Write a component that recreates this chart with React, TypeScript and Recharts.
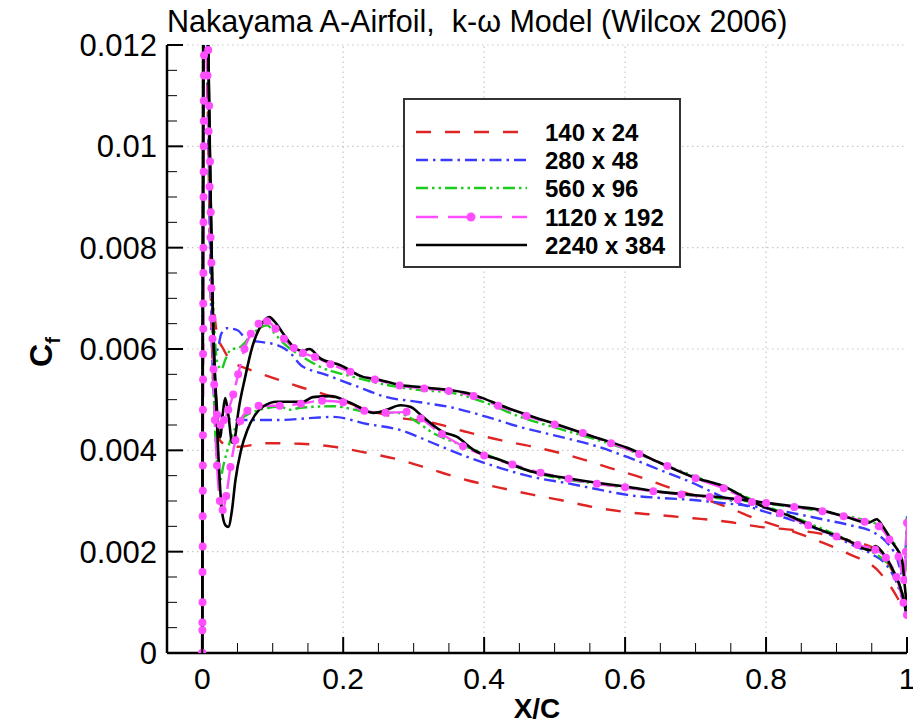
import React from 'react';
import { LineChart, Line, XAxis, YAxis, ReferenceLine, Legend } from 'recharts';

type P = [number, number];

// ---- tick values ----
const X_MAJOR = [0, 0.2, 0.4, 0.6, 0.8, 1];
const X_LABELS = ['0', '0.2', '0.4', '0.6', '0.8', '1'];
const X_MINOR = [0.05, 0.1, 0.15, 0.25, 0.3, 0.35, 0.45, 0.5, 0.55, 0.65, 0.7, 0.75, 0.85, 0.9, 0.95];
const Y_MAJOR = [0, 0.002, 0.004, 0.006, 0.008, 0.01, 0.012];
const Y_LABELS = ['0', '0.002', '0.004', '0.006', '0.008', '0.01', '0.012'];
const Y_MINOR = [0.0005, 0.001, 0.0015, 0.0025, 0.003, 0.0035, 0.0045, 0.005, 0.0055, 0.0065, 0.007, 0.0075, 0.0085, 0.009, 0.0095, 0.0105, 0.011, 0.0115];
const X_GRID = [0, 0.2, 0.4, 0.6, 0.8];
const Y_GRID = [0.002, 0.004, 0.006, 0.008, 0.01, 0.012];

// ---- series data (x/c, Cf) ----
const red140U: P[] = [
  [0, 0], [0.003, 0.0145], [0.008, 0.011], [0.013, 0.0075], [0.018, 0.0066], [0.021, 0.0063], [0.03, 0.006],
  [0.04, 0.00578], [0.068, 0.00559], [0.096, 0.00545], [0.139, 0.00525], [0.186, 0.00505], [0.234, 0.0048],
  [0.281, 0.00464], [0.328, 0.00454], [0.376, 0.00436], [0.423, 0.0042], [0.47, 0.00407], [0.518, 0.00391],
  [0.579, 0.00365], [0.626, 0.00345], [0.664, 0.00326], [0.7, 0.0031], [0.745, 0.00288], [0.791, 0.00262],
  [0.82, 0.00249], [0.867, 0.00225], [0.915, 0.00197], [0.962, 0.00158], [0.986, 0.0011], [1.0, 0.0007],
];
const red140L: P[] = [
  [0, 0], [0.003, 0.0145], [0.008, 0.0105], [0.013, 0.0065], [0.018, 0.0047], [0.025, 0.0042], [0.035, 0.0041],
  [0.05, 0.00407], [0.092, 0.00414], [0.139, 0.00413], [0.186, 0.00407], [0.234, 0.00395], [0.281, 0.00381],
  [0.328, 0.00361], [0.376, 0.00341], [0.423, 0.00326], [0.47, 0.00312], [0.508, 0.00302], [0.555, 0.00288],
  [0.603, 0.00278], [0.65, 0.00272], [0.697, 0.00266], [0.745, 0.00259], [0.791, 0.00249], [0.838, 0.00243],
  [0.867, 0.00238], [0.915, 0.00223], [0.957, 0.00203], [0.976, 0.0017], [0.99, 0.0013], [1.0, 0.0009],
];
const blue280U: P[] = [
  [0, 0], [0.003, 0.0145], [0.008, 0.0115], [0.012, 0.0075], [0.016, 0.006], [0.021, 0.00598], [0.027, 0.0063],
  [0.035, 0.00641], [0.05, 0.00637], [0.064, 0.00618], [0.082, 0.00614], [0.106, 0.00608], [0.125, 0.00592],
  [0.14, 0.00568], [0.157, 0.00557], [0.167, 0.00553], [0.214, 0.00529], [0.262, 0.00505], [0.309, 0.00495],
  [0.356, 0.00484], [0.404, 0.00466], [0.451, 0.00446], [0.498, 0.0043], [0.555, 0.0041], [0.603, 0.00387],
  [0.65, 0.00361], [0.697, 0.00335], [0.745, 0.00304], [0.791, 0.00282], [0.838, 0.00262], [0.88, 0.0024],
  [0.92, 0.00215], [0.95, 0.00195], [0.97, 0.00175], [0.985, 0.0014], [0.995, 0.001], [1.0, 0.0008],
];
const blue280L: P[] = [
  [0, 0], [0.003, 0.0145], [0.008, 0.011], [0.013, 0.0065], [0.017, 0.005], [0.021, 0.00476], [0.03, 0.00466],
  [0.05, 0.0046], [0.064, 0.0046], [0.11, 0.0046], [0.157, 0.00464], [0.186, 0.00466], [0.234, 0.00452],
  [0.281, 0.0044], [0.328, 0.00414], [0.376, 0.00387], [0.423, 0.00365], [0.47, 0.00347], [0.518, 0.00335],
  [0.565, 0.00322], [0.603, 0.00312], [0.65, 0.00306], [0.697, 0.00302], [0.745, 0.00295], [0.791, 0.00288],
  [0.838, 0.00276], [0.88, 0.00264], [0.92, 0.00252], [0.95, 0.0024], [0.97, 0.0022], [0.985, 0.0019],
  [0.995, 0.0015], [1.0, 0.0027],
];
const green560U: P[] = [
  [0, 0], [0.003, 0.0145], [0.008, 0.012], [0.013, 0.008], [0.018, 0.0062], [0.022, 0.0057], [0.027, 0.0056],
  [0.033, 0.0058], [0.04, 0.00598], [0.054, 0.00604], [0.068, 0.00624], [0.08, 0.0064], [0.092, 0.00647],
  [0.103, 0.0063], [0.115, 0.00612], [0.143, 0.00584], [0.167, 0.00565], [0.214, 0.00545], [0.262, 0.00529],
  [0.309, 0.00519], [0.356, 0.00513], [0.404, 0.00493], [0.451, 0.00466], [0.498, 0.00446], [0.55, 0.00425],
  [0.6, 0.00403], [0.65, 0.00375], [0.7, 0.00348], [0.75, 0.00322], [0.79, 0.00296], [0.84, 0.00268],
  [0.88, 0.00245], [0.92, 0.0022], [0.95, 0.002], [0.97, 0.0018], [0.985, 0.0015], [0.995, 0.0011], [1.0, 0.0008],
];
const green560L: P[] = [
  [0, 0], [0.003, 0.0145], [0.008, 0.012], [0.013, 0.0075], [0.018, 0.0045], [0.022, 0.0036], [0.025, 0.0034],
  [0.03, 0.0037], [0.04, 0.0042], [0.054, 0.0046], [0.082, 0.0048], [0.11, 0.00486], [0.125, 0.0048],
  [0.139, 0.00484], [0.186, 0.00487], [0.234, 0.00476], [0.277, 0.00474], [0.3, 0.0046], [0.328, 0.00434],
  [0.361, 0.00414], [0.394, 0.00397], [0.451, 0.00365], [0.498, 0.00347], [0.55, 0.00336], [0.6, 0.00327],
  [0.65, 0.00318], [0.7, 0.0031], [0.75, 0.00303], [0.8, 0.00295], [0.85, 0.00286], [0.9, 0.00274],
  [0.94, 0.00262], [0.96, 0.00252], [0.975, 0.0023], [0.99, 0.0019], [0.997, 0.0015], [1.0, 0.0027],
];
const pink1120U: P[] = [
  [0, 0], [0.0002, 0.0006], [0.0004, 0.0016], [0.0006, 0.0027], [0.0008, 0.0037], [0.001, 0.0048],
  [0.0012, 0.0059], [0.0014, 0.0069], [0.0016, 0.008], [0.0018, 0.009], [0.002, 0.01], [0.0022, 0.0109],
  [0.0025, 0.0118], [0.004, 0.0135], [0.0075, 0.0114], [0.009, 0.0103], [0.0105, 0.0092], [0.0118, 0.0082],
  [0.013, 0.0072], [0.0145, 0.0062], [0.017, 0.0053], [0.021, 0.0047], [0.026, 0.0045], [0.031, 0.0046],
  [0.037, 0.0048], [0.044, 0.0051], [0.051, 0.0055], [0.06, 0.006], [0.069, 0.0063], [0.08, 0.0065],
  [0.092, 0.00655], [0.104, 0.0064], [0.116, 0.0062], [0.13, 0.00602], [0.143, 0.00592], [0.16, 0.00584],
  [0.182, 0.0057], [0.21, 0.00555], [0.245, 0.0054], [0.28, 0.00528], [0.315, 0.00522], [0.35, 0.00517],
  [0.385, 0.00507], [0.42, 0.00488], [0.46, 0.00468], [0.5, 0.00451], [0.54, 0.00434], [0.58, 0.00414],
  [0.62, 0.00393], [0.66, 0.00369], [0.7, 0.00345], [0.74, 0.00325], [0.78, 0.00298], [0.82, 0.00276],
  [0.86, 0.00252], [0.9, 0.0023], [0.93, 0.00213], [0.955, 0.00204], [0.97, 0.00188], [0.985, 0.0015],
  [0.995, 0.00099], [1.0, 0.00075],
];
const pink1120L: P[] = [
  [0, 0], [0.0002, 0.00045], [0.0004, 0.001], [0.0006, 0.0021], [0.0008, 0.0032], [0.001, 0.0043],
  [0.0012, 0.0054], [0.0014, 0.0064], [0.0016, 0.0075], [0.0018, 0.0085], [0.002, 0.0095], [0.0022, 0.0105],
  [0.0025, 0.0114], [0.003, 0.0122], [0.005, 0.0135], [0.0085, 0.0119], [0.0098, 0.0108], [0.011, 0.0097],
  [0.012, 0.0087], [0.013, 0.0077], [0.0145, 0.0066], [0.016, 0.0056], [0.018, 0.0046], [0.021, 0.0037],
  [0.025, 0.003], [0.029, 0.00282], [0.034, 0.0031], [0.04, 0.00367], [0.047, 0.0042], [0.054, 0.00458],
  [0.064, 0.00478], [0.08, 0.00488], [0.11, 0.00488], [0.14, 0.00492], [0.17, 0.00498], [0.2, 0.00495],
  [0.23, 0.00478], [0.26, 0.00474], [0.29, 0.00476], [0.31, 0.00463], [0.34, 0.00432], [0.37, 0.00408],
  [0.4, 0.0039], [0.44, 0.00372], [0.48, 0.00356], [0.52, 0.00344], [0.56, 0.00334], [0.6, 0.00327],
  [0.64, 0.00319], [0.68, 0.00313], [0.72, 0.00308], [0.76, 0.00303], [0.8, 0.00296], [0.84, 0.00288],
  [0.88, 0.0028], [0.91, 0.0027], [0.94, 0.00259], [0.96, 0.0025], [0.975, 0.00224], [0.988, 0.0019],
  [0.996, 0.00144], [0.9985, 0.002], [1.0, 0.00257],
];
const black2240U: P[] = [
  [0, 0], [0.002, 0.0145], [0.006, 0.014], [0.01, 0.0105], [0.0156, 0.0063], [0.02, 0.005], [0.0255, 0.00426],
  [0.029, 0.0047], [0.0326, 0.00503], [0.037, 0.0047], [0.0426, 0.00415], [0.047, 0.0043], [0.051, 0.00474],
  [0.061, 0.00545], [0.071, 0.00604], [0.082, 0.00643], [0.095, 0.00663], [0.105, 0.0065], [0.115, 0.0063],
  [0.13, 0.00604], [0.142, 0.00596], [0.152, 0.006], [0.167, 0.00582], [0.196, 0.00568], [0.228, 0.00545],
  [0.252, 0.00539], [0.281, 0.00529], [0.309, 0.00525], [0.338, 0.00521], [0.376, 0.00513], [0.394, 0.00505],
  [0.423, 0.00489], [0.47, 0.00466], [0.51, 0.00448], [0.555, 0.00427], [0.603, 0.00405], [0.65, 0.00375],
  [0.697, 0.00347], [0.745, 0.00326], [0.768, 0.00308], [0.791, 0.00292], [0.838, 0.00268], [0.867, 0.00249],
  [0.915, 0.00223], [0.948, 0.00203], [0.955, 0.00211], [0.966, 0.00197], [0.98, 0.00164], [0.993, 0.00118],
  [1.0, 0.0007],
];
const black2240L: P[] = [
  [0, 0], [0.003, 0.0145], [0.008, 0.0125], [0.011, 0.0098], [0.014, 0.0074], [0.021, 0.0045], [0.028, 0.0028],
  [0.033, 0.00252], [0.037, 0.00249], [0.042, 0.0028], [0.047, 0.0034], [0.055, 0.004], [0.064, 0.0044],
  [0.075, 0.0047], [0.087, 0.00487], [0.106, 0.00496], [0.125, 0.00496], [0.143, 0.00496], [0.157, 0.00505],
  [0.182, 0.00507], [0.21, 0.00494], [0.243, 0.00474], [0.262, 0.0048], [0.281, 0.00489], [0.295, 0.00486],
  [0.313, 0.00466], [0.342, 0.00436], [0.361, 0.00427], [0.385, 0.00401], [0.423, 0.00381], [0.47, 0.00357],
  [0.518, 0.00345], [0.565, 0.00335], [0.603, 0.00328], [0.65, 0.00318], [0.697, 0.00312], [0.745, 0.00306],
  [0.791, 0.00298], [0.848, 0.00288], [0.867, 0.00285], [0.915, 0.00268], [0.945, 0.00257], [0.957, 0.00264],
  [0.966, 0.00249], [0.98, 0.00217], [0.993, 0.00184], [0.997, 0.0013], [1.0, 0.0009],
];

const SERIES_NAMES = ['140 x 24', '280 x 48', '560 x 96', '1120 x 192', '2240 x 384'];

const toData = (pts: P[]) => pts.map(([x, y]) => ({ x, y }));

const FONT = '"Liberation Sans", Arial, Helvetica, sans-serif';

const SERIES = [
  { name: SERIES_NAMES[0], color: '#e02424', dash: '15 14', width: 2.4, upper: red140U, lower: red140L, dot: false },
  { name: SERIES_NAMES[1], color: '#3a3aff', dash: '12 5 2.5 5', width: 2.4, upper: blue280U, lower: blue280L, dot: false },
  { name: SERIES_NAMES[2], color: '#1ccc1c', dash: '12 4 2.5 4 2.5 4', width: 2.4, upper: green560U, lower: green560L, dot: false },
  { name: SERIES_NAMES[3], color: '#ff4dff', dash: '22 10', width: 2.4, upper: pink1120U, lower: pink1120L, dot: true },
  { name: SERIES_NAMES[4], color: '#000000', dash: undefined as string | undefined, width: 2.6, upper: black2240U, lower: black2240L, dot: false },
];

const LEG_ROWS = [34, 62, 90, 119, 147];

const XTick = (props: any) => {
  const { x, y, payload } = props;
  const v = payload.value;
  const mi = X_MAJOR.findIndex((m) => Math.abs(m - v) < 1e-9);
  const major = mi >= 0;
  return (
    <g>
      <line x1={x} x2={x} y1={y} y2={y - (major ? 16 : 10)} stroke="#000" strokeWidth={major ? 2 : 1} />
      {major && (
        <text x={x} y={y + 36} textAnchor="middle" fontSize={30} fontFamily={FONT} fill="#000">
          {X_LABELS[mi]}
        </text>
      )}
    </g>
  );
};

const YTick = (props: any) => {
  const { x, y, payload } = props;
  const v = payload.value;
  const mi = Y_MAJOR.findIndex((m) => Math.abs(m - v) < 1e-9);
  const major = mi >= 0;
  return (
    <g>
      <line x1={x} x2={x + (major ? 16 : 10)} y1={y} y2={y} stroke="#000" strokeWidth={major ? 2 : 1} />
      {major && (
        <text x={x - 10} y={y} dy="0.35em" textAnchor="end" fontSize={31} fontFamily={FONT} fill="#000">
          {Y_LABELS[mi]}
        </text>
      )}
    </g>
  );
};

const LegendBox = () => (
  <svg width={278} height={170} style={{ display: 'block' }}>
    <rect x={1} y={1} width={276} height={168} fill="#fff" stroke="#333" strokeWidth={2} />
    {SERIES.map((s, i) => {
      const cy = LEG_ROWS[i];
      return (
        <g key={s.name}>
          <line x1={13} x2={124} y1={cy} y2={cy} stroke={s.color} strokeWidth={s.width} strokeDasharray={s.dash} />
          {s.dot && <circle cx={68} cy={cy} r={4.5} fill={s.color} />}
          <text x={142} y={cy} dy="0.36em" fontWeight="bold" fontSize={24} fontFamily={FONT} fill="#000">
            {s.name}
          </text>
        </g>
      );
    })}
  </svg>
);

const YTitle = () => (
  <text x={44} y={344} transform="rotate(-90 44 344)" textAnchor="middle" fontFamily={FONT} fontWeight="bold" fill="#000">
    <tspan fontSize={32}>C</tspan>
    <tspan fontSize={20} dy={8}>f</tspan>
  </text>
);

const XTitle = () => (
  <text x={529} y={710} textAnchor="middle" fontFamily={FONT} fontWeight="bold" fontSize={28} fill="#000">
    X/C
  </text>
);

export default function App() {
  const xTicks = [...X_MAJOR, ...X_MINOR].sort((a, b) => a - b);
  const yTicks = [...Y_MAJOR, ...Y_MINOR].sort((a, b) => a - b);
  return (
    <div style={{ position: 'relative', width: 913, height: 717, background: '#fff' }}>
      <div
        style={{
          position: 'absolute',
          left: 159,
          top: -3,
          fontFamily: FONT,
          fontSize: 30.5,
          lineHeight: '32px',
          color: '#000',
          whiteSpace: 'pre',
          zIndex: 2,
        }}
      >
        {'Nakayama A-Airfoil,  k-ω Model (Wilcox 2006)'}
      </div>
      <LineChart width={913} height={717} margin={{ top: 37, right: 14, bottom: 12, left: 79 }}>
        {Y_GRID.map((v) => (
          <ReferenceLine key={'gy' + v} y={v} stroke="#c8c8c8" strokeWidth={1.2} strokeDasharray="1.5 3.5" />
        ))}
        {X_GRID.map((v) => (
          <ReferenceLine key={'gx' + v} x={v} stroke="#c8c8c8" strokeWidth={1.2} strokeDasharray="1.5 3.5" />
        ))}
        <XAxis
          type="number"
          dataKey="x"
          domain={[-0.05, 1]}
          allowDataOverflow
          ticks={xTicks}
          interval={0}
          tickSize={0}
          tickMargin={0}
          tickLine={false}
          height={60}
          axisLine={{ stroke: '#000', strokeWidth: 2.5 }}
          tick={(p: any) => <XTick {...p} />}
          label={{ content: () => <XTitle /> }}
        />
        <YAxis
          type="number"
          dataKey="y"
          domain={[0, 0.012]}
          allowDataOverflow
          ticks={yTicks}
          interval={0}
          tickSize={0}
          tickMargin={0}
          tickLine={false}
          width={80}
          axisLine={{ stroke: '#000', strokeWidth: 2.5 }}
          tick={(p: any) => <YTick {...p} />}
          label={{ content: () => <YTitle /> }}
        />
        {SERIES.flatMap((s) =>
          [
            { key: 'U', pts: s.upper },
            { key: 'L', pts: s.lower },
          ].map((b) => (
            <Line
              key={s.name + b.key}
              data={toData(b.pts)}
              dataKey="y"
              name={s.name}
              type="monotone"
              stroke={s.color}
              strokeWidth={s.width}
              strokeDasharray={s.dash}
              dot={s.dot ? { r: 4, fill: s.color, stroke: 'none' } : false}
              activeDot={false}
              isAnimationActive={false}
              legendType="none"
            />
          ))
        )}
        <Legend
          layout="vertical"
          align="center"
          verticalAlign="middle"
          content={() => <LegendBox />}
          wrapperStyle={{ position: 'absolute', left: 395, top: 90, width: 278, height: 170 }}
        />
      </LineChart>
    </div>
  );
}
